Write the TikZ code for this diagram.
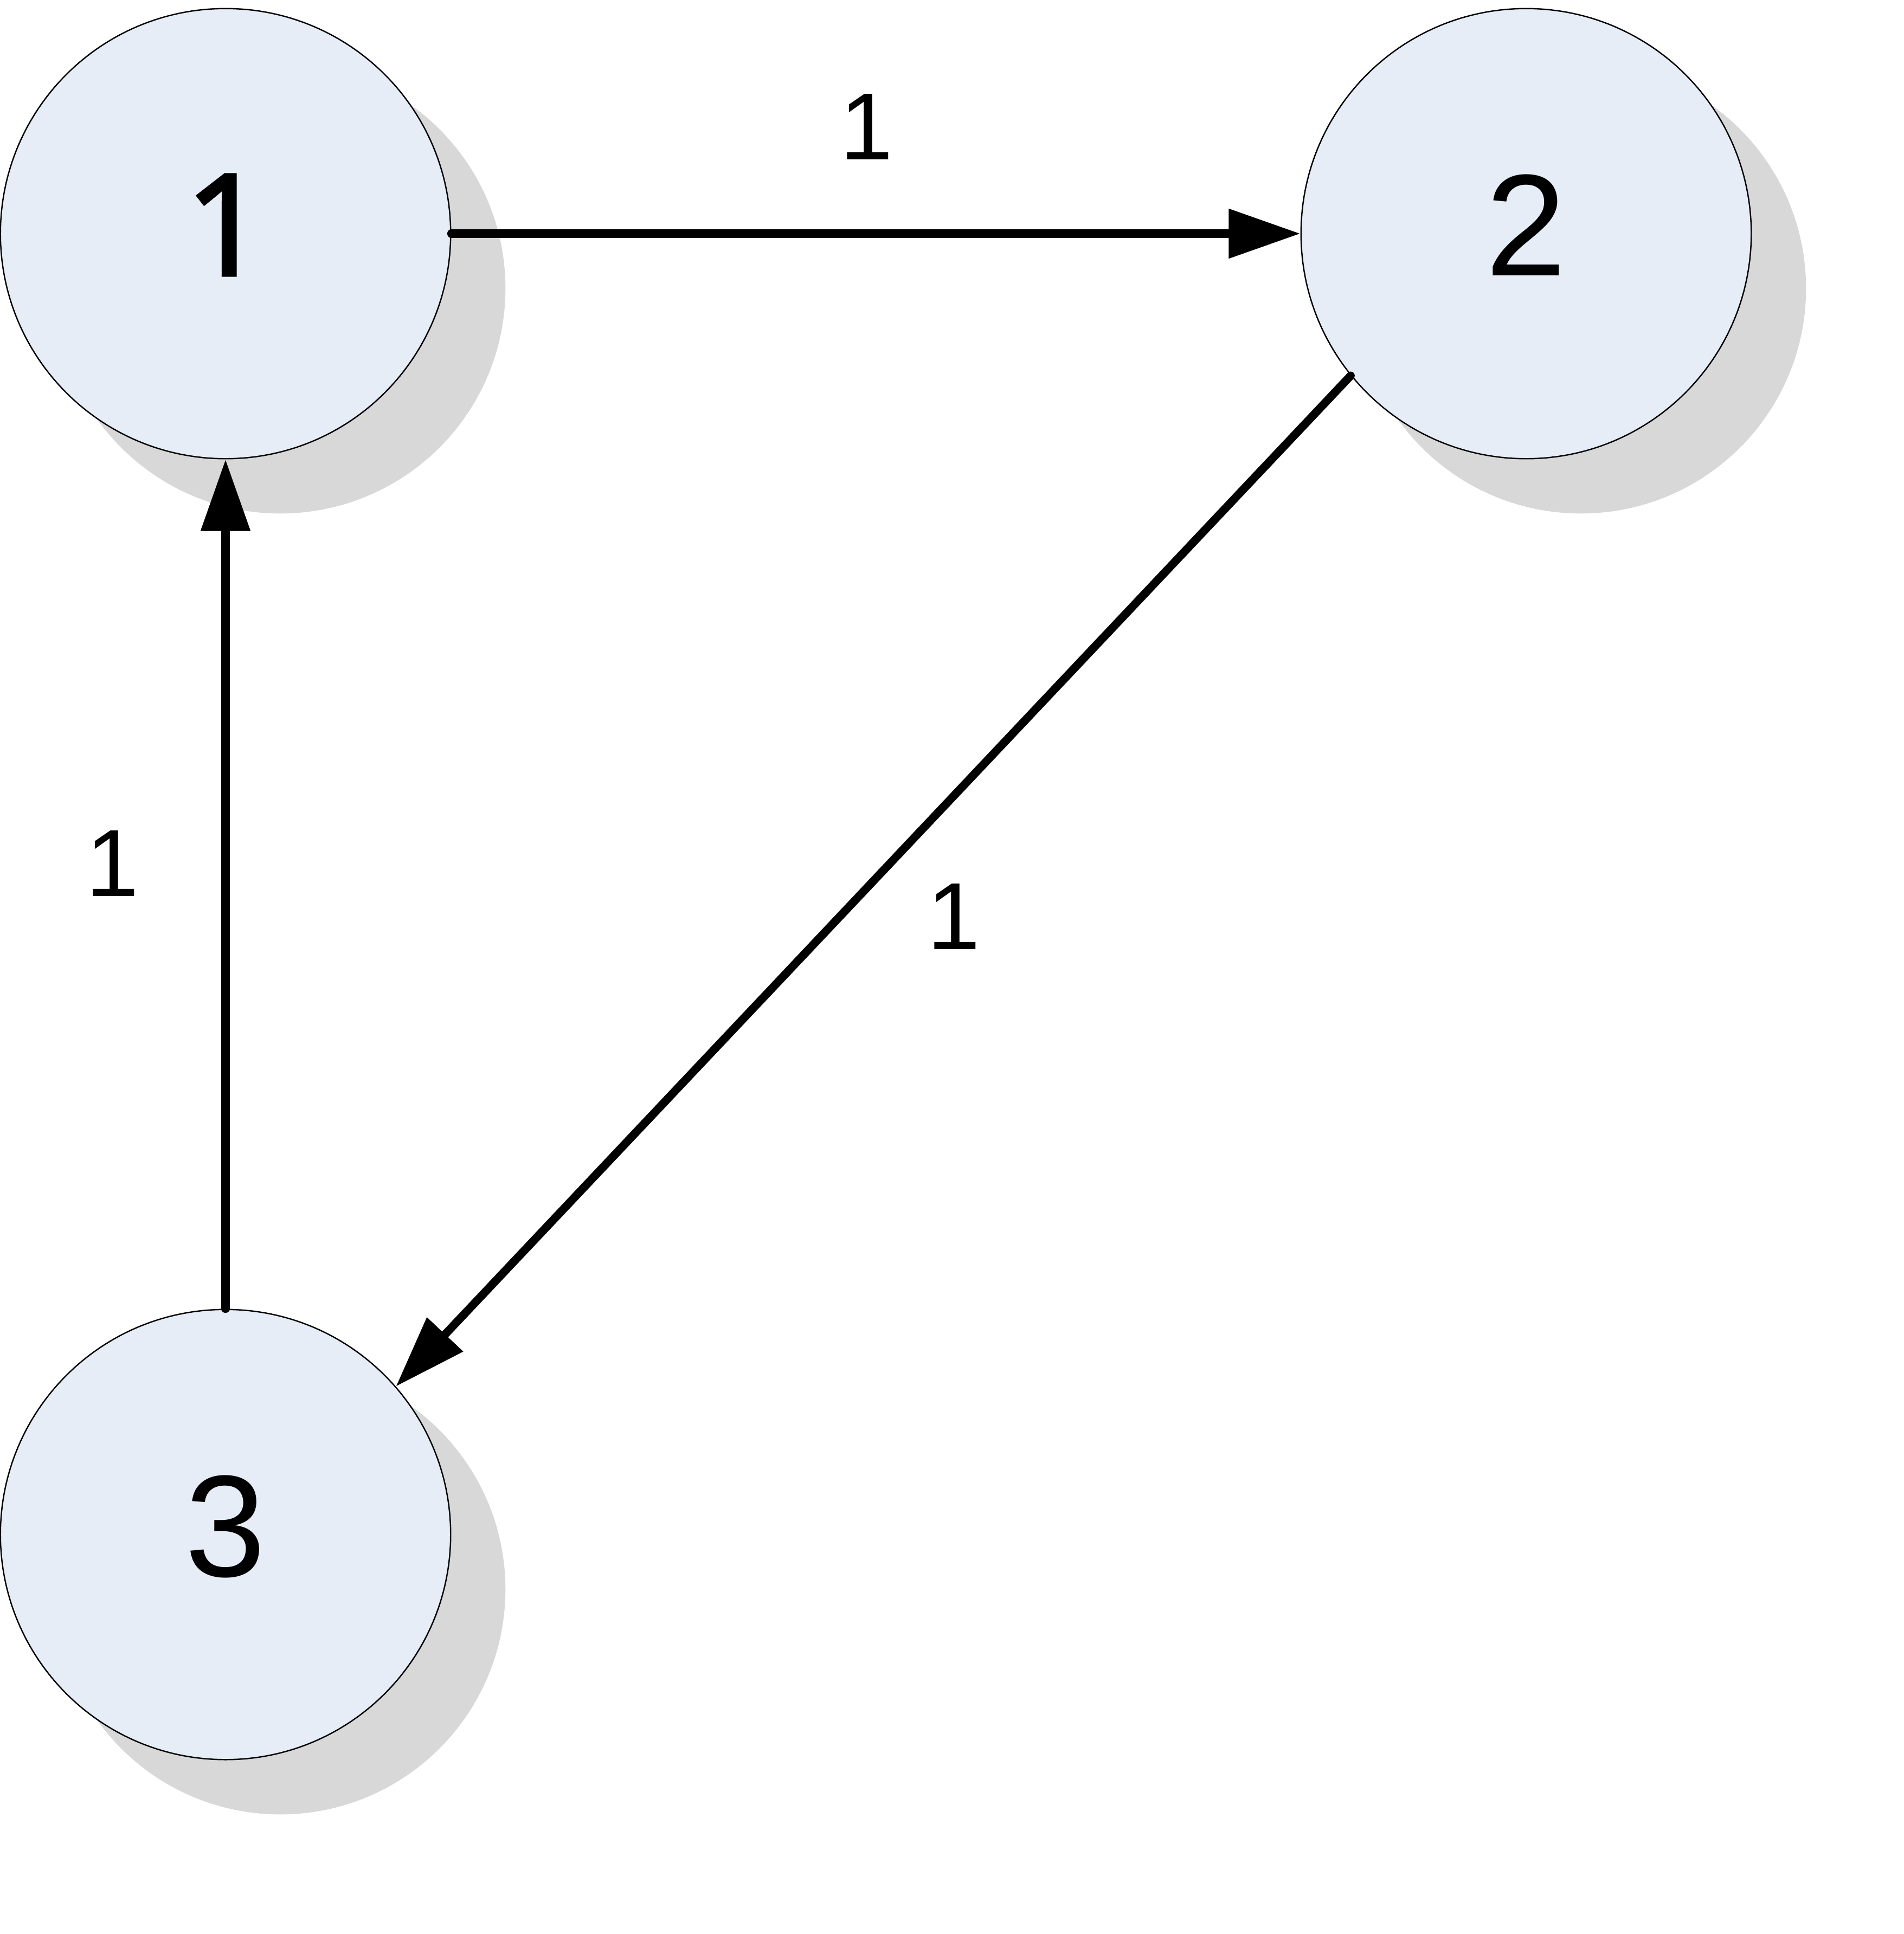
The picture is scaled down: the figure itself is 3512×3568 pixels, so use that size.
\documentclass[tikz,border=0pt]{standalone}
\usepackage{fontspec}
\setmainfont{Liberation Sans}
\newfontfamily\onefont[FakeBold=2]{Noto Sans}
\usetikzlibrary{arrows.meta,shadows}
\definecolor{nodefill}{HTML}{E6EDF7}
\definecolor{shadowgray}{HTML}{D8D8D8}
\tikzset{
  vertex/.style={circle, draw=black, line width=0.7pt, fill=nodefill,
    minimum size=8.3cm, inner sep=0pt, text depth=0.32cm,
    font=\fontsize{76}{80}\selectfont,
    general shadow={shadow xshift=1.01cm, shadow yshift=-1.01cm, fill=shadowgray, draw=none}},
  edge/.style={line width=4.3pt, line cap=round, -{Triangle[length=1.32cm, width=0.88cm]}},
  weight/.style={font=\fontsize{50}{54}\selectfont, inner sep=0pt}
}
\begin{document}
\begin{tikzpicture}[x=0.01cm, y=-0.01cm]
  \useasboundingbox (0,0) rectangle (3512,3568);
  \node[vertex] (n1) at (416,431) {\onefont\fontsize{74}{78}\selectfont 1};
  \node[vertex] (n2) at (2815,431) {2};
  \node[vertex] (n3) at (416,2831) {3};
  \draw[edge] (n1.east) -- (n2.west);
  \draw[edge] (n2.219.4) -- (n3.41.9);
  \draw[edge] (n3.north) -- (n1.south);
  \node[weight] (w12) at (1598,234) {1};
  \node[weight] (w31) at (207,1593) {1};
  \node[weight] (w23) at (1759,1691) {1};
\end{tikzpicture}
\end{document}
